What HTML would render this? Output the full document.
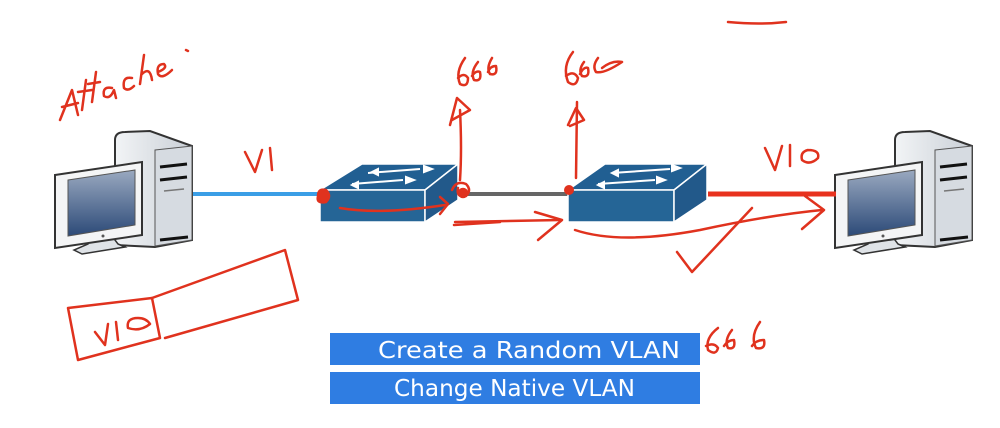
<!DOCTYPE html>
<html><head><meta charset="utf-8"><style>
html,body{margin:0;padding:0;background:#fff;}
svg{display:block}
</style></head><body>
<svg width="1000" height="428" viewBox="0 0 1000 428" xmlns="http://www.w3.org/2000/svg">
<defs>
<linearGradient id="scr" x1="0" y1="0" x2="0" y2="1"><stop offset="0" stop-color="#9aa9c0"/><stop offset="1" stop-color="#2c4a78"/></linearGradient>
<linearGradient id="tw" x1="0" y1="0" x2="1" y2="0"><stop offset="0" stop-color="#f2f4f6"/><stop offset="1" stop-color="#c9cfd6"/></linearGradient>
<g id="pc">
  <path d="M115,245 L115,140 Q115,132 125,132 L150,131 L192,146 L192,240 L155,247 Z" fill="url(#tw)" stroke="#333" stroke-width="2"/>
  <path d="M155,150 L192,146 L192,240 L155,246 Z" fill="#d6dbe1" stroke="#555" stroke-width="1"/>
  <path d="M160,167 L187,164" stroke="#111" stroke-width="3"/>
  <path d="M160,180 L187,177" stroke="#111" stroke-width="3"/>
  <path d="M164,191 L184,189" stroke="#777" stroke-width="1.5"/>
  <path d="M160,240 L188,237" stroke="#111" stroke-width="3"/>
  <path d="M88,236 L112,236 L118,244 L125,247 L82,254 L74,250 L88,244 Z" fill="#dfe3e7" stroke="#333" stroke-width="1.5"/>
  <path d="M55,175 L142,162 L142,235 L55,248 Z" fill="#f4f5f6" stroke="#333" stroke-width="2"/>
  <path d="M68,180 L135,170 L135,225 L68,236 Z" fill="url(#scr)" stroke="#555" stroke-width="1"/>
  <circle cx="103" cy="236" r="1.5" fill="#555"/>
</g>
</defs>

<use href="#pc"/>
<use href="#pc" transform="translate(780,0)"/>

<line x1="193" y1="194" x2="322" y2="194" stroke="#3a9ee6" stroke-width="4"/>
<line x1="458" y1="194" x2="570" y2="194" stroke="#666" stroke-width="4"/>
<line x1="708" y1="194" x2="836" y2="194" stroke="#e8321e" stroke-width="5"/>

<g stroke="#fff" stroke-width="1.5">
<polygon points="320,190 362,164 458,164 425,190" fill="#215f92"/>
<polygon points="320,190 425,190 425,222 320,222" fill="#256596"/>
<polygon points="425,190 458,164 458,200 425,222" fill="#22598a"/>
</g>
<g stroke="#fff" stroke-width="2" fill="#fff">
<path d="M368,173 L420,169"/><path d="M352,184 L403,180"/>
<path d="M372,172 l6,-3 l0,6z"/><path d="M432,169 l-8,-3 l0,6z"/>
<path d="M352,185 l6,-3 l0,6z"/><path d="M414,180 l-8,-3 l0,6z"/>
</g>

<g stroke="#fff" stroke-width="1.5">
<polygon points="568,190 605,164 707,164 674,190" fill="#215f92"/>
<polygon points="568,190 674,190 674,222 568,222" fill="#256596"/>
<polygon points="674,190 707,164 707,200 674,222" fill="#22598a"/>
</g>
<g stroke="#fff" stroke-width="2" fill="#fff">
<path d="M612,173 L670,169"/><path d="M598,184 L655,180"/>
<path d="M612,173 l6,-3 l0,6z"/><path d="M680,168 l-8,-3 l0,6z"/>
<path d="M598,185 l6,-3 l0,6z"/><path d="M665,180 l-8,-3 l0,6z"/>
</g>

<g fill="none" stroke="#e0321e" stroke-width="2.5" stroke-linecap="round" stroke-linejoin="round">
  <path d="M60,120 L72,90 L78,115 M62,107 L78,103"/>
  <path d="M82,110 L86,80 M78,92 L92,90"/>
  <path d="M92,102 L96,72 M88,84 L100,82"/>
  <path d="M112,88 Q102,86 104,96 Q110,100 114,90 L116,98"/>
  <path d="M132,78 Q122,76 124,88 Q128,92 134,86"/>
  <path d="M140,84 L144,55 M142,74 Q150,66 152,80"/>
  <path d="M158,72 Q168,68 164,64 Q156,64 158,74 Q162,80 172,70"/>
  <path d="M186,50 L188,51"/>
  <path d="M245,152 L255,172 L262,150 M270,148 L272,170"/>
  <path d="M765,148 L775,170 L782,146 M790,145 L790,166"/>
  <path d="M808,150 Q800,152 802,160 Q810,166 818,158 Q820,150 808,150"/>
  <path d="M728,22 Q760,25 786,22"/>
  <path d="M465,58 Q455,72 460,84 Q468,88 468,78 Q464,72 458,78"/>
  <path d="M478,62 Q470,72 474,80 Q482,82 480,72 Q476,70 472,76"/>
  <path d="M492,58 Q486,68 490,74 Q498,76 496,66 Q490,66 488,72"/>
  <path d="M460,180 Q462,150 460,110"/>
  <path d="M450,125 L457,98 L470,110 L452,120"/>
  <path d="M318,196 Q318,188 326,190 Q332,196 326,202 Q316,204 318,196" fill="#e0321e"/>
  <path d="M452,190 Q456,180 466,184 Q472,190 466,196 Q456,198 458,188"/>
  <circle cx="463" cy="193" r="4" fill="#e0321e"/>
  <circle cx="569" cy="190" r="5" fill="#e0321e" stroke="none"/>
  <path d="M340,208 Q380,215 445,205"/>
  <path d="M440,214 L448,204 L440,197"/>
  <path d="M454,225 L500,222"/>
  <path d="M573,52 Q562,66 568,82 Q576,88 578,78 Q574,70 566,76"/>
  <path d="M584,62 Q578,70 582,76 Q590,78 588,68 Q584,66 580,74"/>
  <path d="M598,58 Q592,66 596,72 Q604,74 622,62 Q612,60 602,68"/>
  <path d="M576,178 L577,102"/>
  <path d="M568,125 L576,108 L584,120 L570,126"/>
  <path d="M455,222 L560,220"/>
  <path d="M535,212 L562,220 L538,240"/>
  <path d="M575,230 Q620,245 700,230 Q770,215 822,210"/>
  <path d="M805,196 L824,210 L802,229"/>
  <path d="M677,252 L692,272 L752,208"/>
  <path d="M68,308 L152,298 L160,338 L78,360 Z"/>
  <path d="M152,298 L285,250 L298,300 L165,338"/>
  <path d="M95,332 L105,345 L108,324 M116,322 L118,340"/>
  <path d="M138,318 Q126,318 128,328 Q140,332 150,324 Q146,318 138,318"/>
  <path d="M718,328 Q705,338 708,350 Q716,356 718,348 Q714,342 706,346"/>
  <path d="M732,330 Q724,340 728,348 Q736,350 734,340 Q728,340 724,346"/>
  <path d="M760,322 Q750,336 756,348 Q766,350 764,340 Q756,340 752,346"/>
</g>

<rect x="330" y="333" width="370" height="32" fill="#2f7de2"/>
<rect x="330" y="372" width="370" height="32" fill="#2f7de2"/>
<text x="378" y="358" textLength="302" lengthAdjust="spacingAndGlyphs" fill="#fff" font-family="'DejaVu Sans','Liberation Sans',sans-serif" font-size="23">Create a Random VLAN</text>
<text x="394" y="396" textLength="241" lengthAdjust="spacingAndGlyphs" fill="#fff" font-family="'DejaVu Sans','Liberation Sans',sans-serif" font-size="23">Change Native VLAN</text>
</svg>
</body></html>
